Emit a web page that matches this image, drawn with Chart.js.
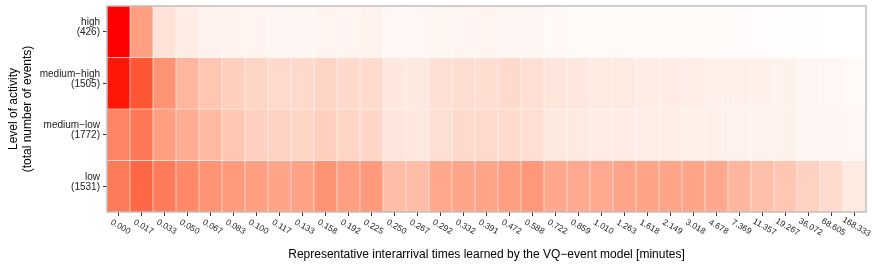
<!DOCTYPE html>
<html><head><meta charset="utf-8">
<script src="https://cdn.jsdelivr.net/npm/chart.js@4/dist/chart.umd.min.js"></script>
<style>html,body{margin:0;padding:0;background:#fff}</style>
</head><body>
<canvas id="c" width="872" height="268"></canvas>
<script>
// ---- data ----
const timeLabels = ['0.000','0.017','0.033','0.050','0.067','0.083','0.100','0.117','0.133','0.158','0.192','0.225','0.250','0.267','0.292','0.332','0.391','0.472','0.588','0.722','0.859','1.010','1.263','1.618','2.149','3.018','4.678','7.369','11.357','19.267','36.072','68.605','168.333'];
const levelNames = ['low','medium\u2212low','medium\u2212high','high'];          // bottom to top
const levelCounts = ['(1531)','(1772)','(1505)','(426)'];
// fill intensity per cell (0 = white, 1 = red)
const lowVals     = [0.67,0.75,0.66,0.60,0.55,0.52,0.50,0.47,0.48,0.55,0.50,0.52,0.35,0.35,0.45,0.47,0.47,0.50,0.53,0.45,0.44,0.44,0.47,0.47,0.47,0.47,0.45,0.38,0.33,0.30,0.24,0.19,0.11];
const medLowVals  = [0.62,0.68,0.50,0.43,0.36,0.30,0.25,0.23,0.22,0.25,0.22,0.21,0.13,0.12,0.17,0.20,0.20,0.19,0.17,0.12,0.11,0.10,0.10,0.09,0.09,0.08,0.08,0.07,0.07,0.07,0.05,0.05,0.04];
const medHighVals = [0.98,0.82,0.55,0.38,0.30,0.25,0.22,0.20,0.20,0.22,0.20,0.19,0.12,0.12,0.17,0.18,0.18,0.20,0.17,0.13,0.12,0.11,0.11,0.10,0.10,0.09,0.08,0.08,0.08,0.07,0.05,0.04,0.03];
const highVals    = [1.00,0.50,0.15,0.10,0.07,0.065,0.06,0.05,0.055,0.06,0.06,0.065,0.04,0.04,0.055,0.06,0.06,0.055,0.05,0.035,0.03,0.03,0.03,0.025,0.025,0.025,0.025,0.02,0.015,0.01,0.01,0.0,0.0];
const rowVals = [lowVals, medLowVals, medHighVals, highVals];
const cellSpan = 1;

// ---- white -> red gradient in CIELAB ----
function srgbToLin(c){c/=255;return c<=0.04045?c/12.92:Math.pow((c+0.055)/1.055,2.4);}
function linToSrgb(c){c=Math.max(0,Math.min(1,c));return Math.round(255*(c<=0.0031308?12.92*c:1.055*Math.pow(c,1/2.4)-0.055));}
const Xn=0.95047,Yn=1,Zn=1.08883;
function toLab(r,g,b){const R=srgbToLin(r),G=srgbToLin(g),B=srgbToLin(b);
 const X=0.4124*R+0.3576*G+0.1805*B,Y=0.2126*R+0.7152*G+0.0722*B,Z=0.0193*R+0.1192*G+0.9505*B;
 const f=t=>t>0.008856?Math.cbrt(t):7.787*t+16/116;
 const fx=f(X/Xn),fy=f(Y/Yn),fz=f(Z/Zn);return [116*fy-16,500*(fx-fy),200*(fy-fz)];}
function fromLab(L,a,b){const fy=(L+16)/116,fx=fy+a/500,fz=fy-b/200;
 const fi=t=>t*t*t>0.008856?t*t*t:(t-16/116)/7.787;
 const X=Xn*fi(fx),Y=Yn*fi(fy),Z=Zn*fi(fz);
 const R=3.2406*X-1.5372*Y-0.4986*Z,G=-0.9689*X+1.8758*Y+0.0415*Z,B=0.0557*X-0.2040*Y+1.0570*Z;
 return 'rgb('+linToSrgb(R)+','+linToSrgb(G)+','+linToSrgb(B)+')';}
const labW=toLab(255,255,255),labR=toLab(255,0,0);
function fillFor(t){return fromLab(labW[0]+(labR[0]-labW[0])*t,labW[1]+(labR[1]-labW[1])*t,labW[2]+(labR[2]-labW[2])*t);}

const FONT='"Liberation Sans", Arial, sans-serif';
const decor={
 id:'decor',
 afterDraw(chart){
  const ctx=chart.ctx,a=chart.chartArea,xs=chart.scales.x,ys=chart.scales.y;
  ctx.save();
  ctx.strokeStyle='#b5b5b5';ctx.lineWidth=1.3;
  ctx.strokeRect(a.left,a.top,a.right-a.left,a.bottom-a.top);
  // x tick labels
  ctx.fillStyle='#222';ctx.font='8.5px '+FONT;ctx.textAlign='center';ctx.textBaseline='middle';
  timeLabels.forEach((t,i)=>{const px=xs.getPixelForValue(i);ctx.save();ctx.translate(px+2,a.bottom+15);ctx.rotate(30*Math.PI/180);ctx.fillText(t,0,0);ctx.restore();});
  // y tick labels
  ctx.font='10px '+FONT;ctx.textAlign='right';
  levelNames.forEach((n,i)=>{const py=ys.getPixelForValue(i+0.5);ctx.fillText(n,a.left-7,py-9.5);ctx.fillText(levelCounts[i],a.left-7,py+0.5);});
  // titles
  ctx.fillStyle='#000';ctx.font='12px '+FONT;ctx.textAlign='center';
  ctx.fillText('Representative interarrival times learned by the VQ\u2212event model [minutes]',(a.left+a.right)/2,255);
  ctx.save();ctx.translate(14,(a.top+a.bottom)/2);ctx.rotate(-Math.PI/2);
  ctx.fillText('Level of activity',0,0);ctx.fillText('(total number of events)',0,14);ctx.restore();
  ctx.restore();
 }
};

new Chart(document.getElementById('c'),{
 type:'bar',
 data:{labels:timeLabels,datasets:rowVals.map((vals,i)=>({
   label:levelNames[i],
   data:vals.map(()=>cellSpan),
   backgroundColor:vals.map(fillFor),
   borderColor:'rgba(255,255,255,0.55)',borderWidth:0.6,borderSkipped:false,
   barPercentage:1,categoryPercentage:1
 }))},
 options:{
  responsive:false,devicePixelRatio:1,animation:false,
  layout:{padding:{left:0,right:6,top:6,bottom:0}},
  plugins:{legend:{display:false},tooltip:{enabled:false}},
  scales:{
   x:{type:'category',stacked:true,offset:true,
      grid:{offset:false,drawOnChartArea:false,drawTicks:true,tickLength:4,tickColor:'#333',tickWidth:1},
      border:{display:false},ticks:{display:false},
      afterFit:s=>{s.height=56;}},
   y:{type:'linear',stacked:true,min:0,max:4,
      grid:{drawOnChartArea:false,drawTicks:true,tickLength:4,tickColor:'#333',tickWidth:1},
      border:{display:false},ticks:{display:false},
      afterBuildTicks:s=>{s.ticks=[0.5,1.5,2.5,3.5].map(v=>({value:v}));},
      afterFit:s=>{s.width=107;}}
  }
 },
 plugins:[decor]
});
</script>
</body></html>
